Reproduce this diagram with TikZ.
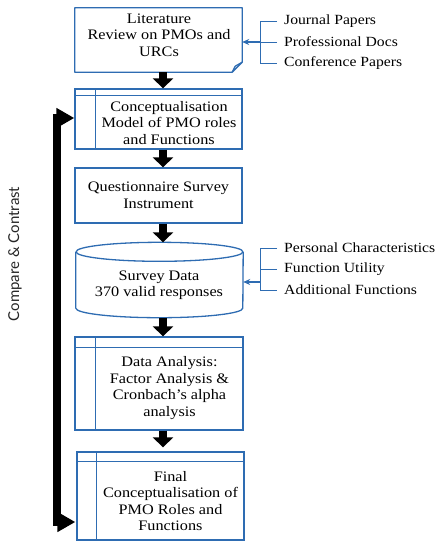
\documentclass[tikz,border=0pt]{standalone}
\usepackage{fontspec}
\setmainfont{Liberation Serif}[FakeStretch=1.12]
\newfontfamily\sidefont{Lato}
\usetikzlibrary{arrows.meta,calc}
\definecolor{boxblue}{RGB}{46,108,178}
\tikzset{
  box/.style={draw=boxblue, line width=1.3pt, minimum width=167pt, inner sep=0pt},
  lbl/.style={align=center, font=\fontsize{14.5}{16.5}\selectfont, inner sep=0pt},
  item/.style={anchor=west, inner sep=0pt, font=\fontsize{14}{16}\selectfont},
  fatarrow/.style={line width=8pt, -{Triangle[length=10pt,width=20pt]}},
  thinline/.style={draw=boxblue, line width=0.9pt},
  bluearrow/.style={draw=boxblue, line width=1.4pt, -{Stealth[length=7pt,width=6pt]}},
  outline/.style={draw=boxblue, line width=1.3pt, line join=round},
}
\begin{document}
\begin{tikzpicture}[x=1pt,y=-1pt]
\useasboundingbox (0,0) rectangle (441,550);

% boxes
\node[minimum width=167pt, minimum height=64pt, inner sep=0pt] (lit) at (158.5,40) {};
\draw[outline] (lit.north west) -- (lit.north east) -- ($(lit.south east)+(0,-10)$)
  -- ($(lit.south east)+(-10,0)$) -- (lit.south west) -- cycle;
\draw[outline] ($(lit.south east)+(0,-10)$) -- ($(lit.south east)+(-7,-6)$) -- ($(lit.south east)+(-10,0)$);
\node[lbl] (littxt) at (159,35) {Literature\\Review on PMOs and\\URCs};

\node[box, minimum height=60pt] (b2) at (158.5,119) {};
\draw[outline] ($(b2.north west)+(0,7)$) -- ($(b2.north east)+(0,7)$);
\draw[outline] ($(b2.north west)+(21,0)$) -- ($(b2.south west)+(21,0)$);
\node[lbl] (b2txt) at (169,123) {Conceptualisation\\Model of PMO roles\\and Functions};

\node[box, lbl, minimum height=55pt] (b3) at (158.5,195.5) {Questionnaire Survey\\Instrument};

\node[minimum width=167pt, minimum height=75pt, inner sep=0pt] (cyl) at (159.5,280) {};
\draw[outline] ($(cyl.north)+(0,9.5)$) ellipse [x radius=83.5pt, y radius=9.5pt];
\draw[outline] ($(cyl.north west)+(0,9.5)$) -- ($(cyl.south west)+(0,-9.5)$)
  arc[start angle=180, end angle=360, x radius=83.5pt, y radius=9.5pt]
  -- ($(cyl.north east)+(0,9.5)$);
\node[lbl] (cyltxt) at (159,285) {Survey Data\\370 valid responses};

\node[box, minimum width=168pt, minimum height=93pt] (b4) at (159,383.5) {};
\draw[outline] ($(b4.north west)+(0,11)$) -- ($(b4.north east)+(0,11)$);
\draw[outline] ($(b4.north west)+(21,0)$) -- ($(b4.south west)+(21,0)$);
\node[lbl] (b4txt) at (169.5,388) {Data Analysis:\\Factor Analysis \&\\Cronbach's alpha\\analysis};

\node[box, minimum height=88pt] (b5) at (160.5,496) {};
\draw[outline] ($(b5.north west)+(0,10)$) -- ($(b5.north east)+(0,10)$);
\draw[outline] ($(b5.north west)+(20,0)$) -- ($(b5.south west)+(20,0)$);
\node[lbl] (b5txt) at (170.5,501) {Final\\Conceptualisation of\\PMO Roles and\\Functions};

% thick flow arrows
\coordinate (ax) at (163,0);
\draw[fatarrow] (lit.south -| ax) -- (b2.north -| ax);
\draw[fatarrow] (b2.south -| ax) -- (b3.north -| ax);
\draw[fatarrow] (b3.south -| ax) -- (cyl.north -| ax);
\draw[fatarrow] (cyl.south -| ax) -- (b4.north -| ax);
\draw[fatarrow] (b4.south -| ax) -- ($(b5.north -| ax)+(0,-4)$);

% compare & contrast loop
\coordinate (lb) at (57,0);
\coordinate (bot) at ($(b5.west)+(-1,26)$);
\draw[line width=8pt, line join=miter, {Triangle[length=18pt,width=19pt]}-{Triangle[length=18pt,width=19pt]}]
  ($(b2.west)+(0,-1)$) -| (lb |- bot) -- (bot);
\node[font=\sidefont\fontsize{15}{17}\selectfont, text=black!85, rotate=90, inner sep=0pt] (cc) at (15,254) {Compare \& Contrast};

% right lists
\coordinate (vx) at (260,0);
\coordinate (tx) at (277,0);
\node[item] (j1) at (284,21) {Journal Papers};
\node[item] (j2) at (284,42) {Professional Docs};
\node[item] (j3) at (284,63) {Conference Papers};
\draw[thinline] (j1.west -| tx) -- (j1.west -| vx) -- (j3.west -| vx) -- (j3.west -| tx);
\draw[thinline] (j2.west -| tx) -- (j2.west -| vx);
\draw[bluearrow] (j2.west -| vx) -- (j2.west -| lit.east);

\node[item] (p1) at (284,248) {Personal Characteristics};
\node[item] (p2) at (284,269) {Function Utility};
\node[item] (p3) at (284,290) {Additional Functions};
\draw[thinline] (p1.west -| tx) -- (p1.west -| vx) -- (p3.west -| vx) -- (p3.west -| tx);
\draw[thinline] (p2.west -| tx) -- (p2.west -| vx);
\coordinate (pa) at (260,282);
\draw[bluearrow] (pa) -- (pa -| cyl.east);
\end{tikzpicture}
\end{document}
